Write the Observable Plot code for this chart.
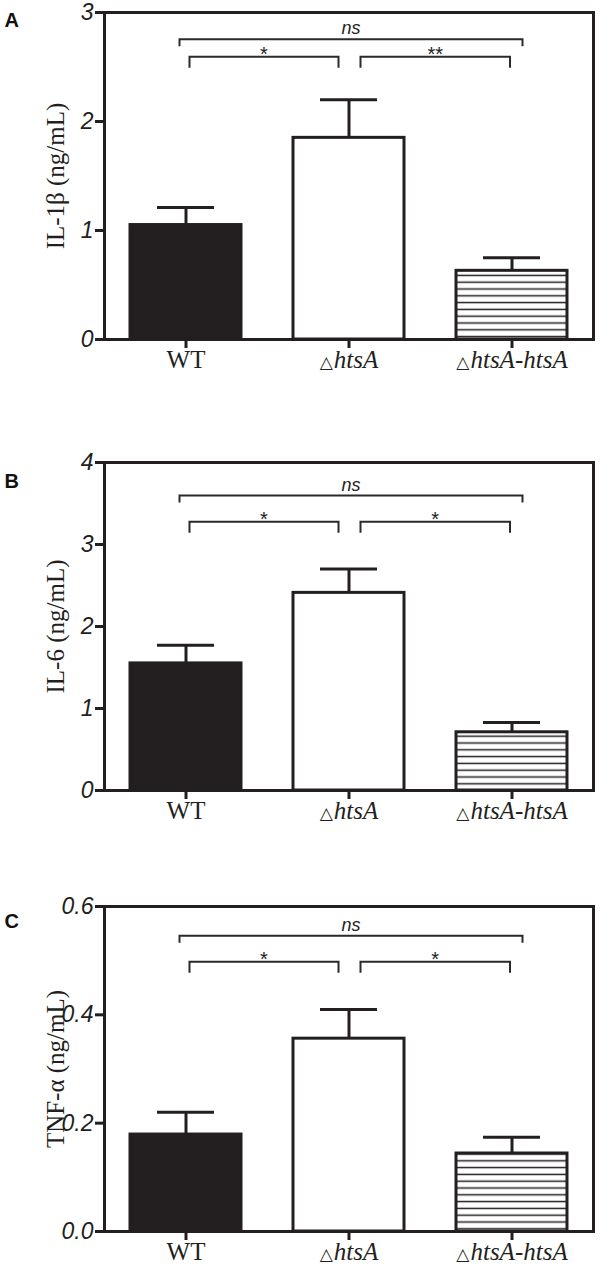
<!DOCTYPE html>
<html><head><meta charset="utf-8">
<script src="https://cdn.jsdelivr.net/npm/d3@7"></script>
<script src="https://cdn.jsdelivr.net/npm/@observablehq/plot@0.6"></script>
<style>
body{margin:0;background:#fff;}
#chart{width:602px;height:1267px;}
#chart svg{display:block;}
</style></head><body><div id="chart"></div>
<script>
// ---- data ----
const groups = ["WT", "ΔhtsA", "ΔhtsA-htsA"];
const groupLabels = ["WT", "△htsA", "△htsA-htsA"];
const panelLetters = ["A", "B", "C"];
const yTitles = ["IL-1β (ng/mL)", "IL-6 (ng/mL)", "TNF-α (ng/mL)"];

const il1bMean = [1.05, 1.85, 0.63];
const il1bSem  = [0.16, 0.35, 0.12];
const il6Mean  = [1.55, 2.41, 0.71];
const il6Sem   = [0.22, 0.29, 0.12];
const tnfMean  = [0.179, 0.356, 0.144];
const tnfSem   = [0.041, 0.054, 0.030];

const yTicksA = [0, 1, 2, 3];        const yTickLabelsA = ["0", "1", "2", "3"];
const yTicksB = [0, 1, 2, 3, 4];     const yTickLabelsB = ["0", "1", "2", "3", "4"];
const yTicksC = [0, 0.2, 0.4, 0.6];  const yTickLabelsC = ["0.0", "0.2", "0.4", "0.6"];
const yDomainMax = [3, 4, 0.6];

const compPairs = [["WT", "ΔhtsA-htsA"], ["WT", "ΔhtsA"], ["ΔhtsA", "ΔhtsA-htsA"]];
const sigA = ["ns", "*", "**"];
const sigB = ["ns", "*", "*"];
const sigC = ["ns", "*", "*"];
const bracketYA = [2.75, 2.59, 2.59];
const bracketYB = [3.59, 3.27, 3.27];
const bracketYC = [0.545, 0.497, 0.497];

// ---- styling ----
const INK = "#231f20";
const SERIF = "'Liberation Serif', 'Times New Roman', serif";
const SANS = "'Liberation Sans', Arial, sans-serif";

function bracketMark(pairs, ys, labels) {
  const endOffsets = [[-6, 11], [4, -10], [12, -1.5]];
  const drops = [7, 11, 11];
  return (index, scales) => {
    const {x, y} = scales;
    const bw = x.bandwidth ? x.bandwidth() : 0;
    const cx = c => x(c) + bw / 2;
    const g = d3.create("svg:g");
    pairs.forEach(([a, b], i) => {
      const x1 = cx(a) + endOffsets[i][0];
      const x2 = cx(b) + endOffsets[i][1];
      const y0 = y(ys[i]);
      const d = drops[i];
      g.append("path")
        .attr("d", `M${x1},${y0 + d}V${y0}H${x2}V${y0 + d}`)
        .attr("fill", "none").attr("stroke", "#2a2a2a").attr("stroke-width", 2);
      const isNs = labels[i] === "ns";
      g.append("text")
        .attr("x", (x1 + x2) / 2)
        .attr("y", isNs ? y0 - 5 : y0 + 4)
        .attr("text-anchor", "middle")
        .attr("font-family", SANS)
        .attr("font-size", isNs ? 18 : 20)
        .attr("font-style", isNs ? "italic" : "normal")
        .attr("fill", "#222")
        .text(labels[i]);
    });
    return g.node();
  };
}

function panel(cfg) {
  const {id, letter, title, means, sems, ticks, tickLabels, yMax, sig, bracketY,
         height, marginTop, marginBottom, letterDy} = cfg;
  const rows = groups.map((g, i) => ({
    group: g, mean: means[i], sem: sems[i],
    fill: i === 0 ? INK : i === 1 ? "white" : `url(#hatch-${id})`
  }));
  const svg = Plot.plot({
    width: 602, height, marginLeft: 104, marginRight: 9, marginTop, marginBottom,
    style: {background: "white", color: INK},
    x: {domain: groups, paddingInner: 0.32, paddingOuter: 0.16},
    y: {domain: [0, yMax]},
    color: {type: "identity"},
    marks: [
      Plot.ruleX(rows, {x: "group", y1: "mean", y2: d => d.mean + d.sem, stroke: INK, strokeWidth: 3}),
      Plot.tickY(rows, {x: "group", y: d => d.mean + d.sem, stroke: INK, strokeWidth: 3, insetLeft: 27, insetRight: 27}),
      Plot.barY(rows, {x: "group", y: "mean", fill: "fill", stroke: INK, strokeWidth: 3}),
      Plot.frame({stroke: INK, strokeWidth: 3}),
      Plot.axisY({ticks, tickFormat: d => tickLabels[ticks.indexOf(d)], tickSize: 9, tickPadding: 2,
        fontSize: 23, fontStyle: "italic", fontFamily: SANS, strokeWidth: 3, color: INK, label: null}),
      Plot.axisX({tickFormat: d => groupLabels[groups.indexOf(d)], tickSize: 9, tickPadding: 2,
        fontSize: 25, fontFamily: SERIF, strokeWidth: 3, color: INK, label: null}),
      Plot.text([title], {text: d => d, frameAnchor: "left", dx: -49, rotate: -90,
        textAnchor: "middle", lineAnchor: "middle", fontFamily: SERIF, fontSize: 25, fill: INK}),
      Plot.text([letter], {text: d => d, frameAnchor: "top-left", dx: -100, dy: letterDy,
        fontFamily: SANS, fontWeight: "bold", fontSize: 20, fill: "#111"}),
      bracketMark(compPairs, bracketY, sig)
    ]
  });
  // hatch pattern
  const defs = d3.select(svg).insert("defs", ":first-child");
  const p = defs.append("pattern").attr("id", `hatch-${id}`)
    .attr("patternUnits", "userSpaceOnUse").attr("width", 10).attr("height", 6.8);
  p.append("rect").attr("width", 10).attr("height", 6.8).attr("fill", "white");
  p.append("line").attr("x1", 0).attr("x2", 10).attr("y1", 3.4).attr("y2", 3.4)
    .attr("stroke", INK).attr("stroke-width", 1.5);
  // italic strain names with small triangle
  d3.select(svg).selectAll('g[aria-label="x-axis tick label"] text').each(function () {
    const t = this.textContent;
    if (t.startsWith("△")) {
      const el = d3.select(this);
      el.text(null);
      el.append("tspan").attr("font-family", "'DejaVu Sans', sans-serif").attr("font-size", 17).text("△");
      el.append("tspan").attr("font-style", "italic").attr("dx", 1).text(t.slice(1));
    }
  });
  return svg;
}

const chart = document.getElementById("chart");
chart.append(panel({id: "a", letter: panelLetters[0], title: yTitles[0], means: il1bMean, sems: il1bSem,
  ticks: yTicksA, tickLabels: yTickLabelsA, yMax: yDomainMax[0], sig: sigA, bracketY: bracketYA,
  height: 420, marginTop: 12, marginBottom: 81, letterDy: 0}));
chart.append(panel({id: "b", letter: panelLetters[1], title: yTitles[1], means: il6Mean, sems: il6Sem,
  ticks: yTicksB, tickLabels: yTickLabelsB, yMax: yDomainMax[1], sig: sigB, bracketY: bracketYB,
  height: 445, marginTop: 42, marginBottom: 75, letterDy: 11}));
chart.append(panel({id: "c", letter: panelLetters[2], title: yTitles[2], means: tnfMean, sems: tnfSem,
  ticks: yTicksC, tickLabels: yTickLabelsC, yMax: yDomainMax[2], sig: sigC, bracketY: bracketYC,
  height: 402, marginTop: 41, marginBottom: 36, letterDy: 7}));
</script></body></html>
